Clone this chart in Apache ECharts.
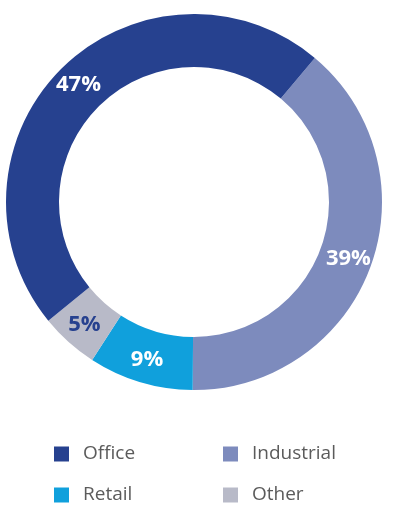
<!DOCTYPE html>
<html>
<head>
<meta charset="utf-8">
<script src="https://cdn.jsdelivr.net/npm/echarts@6/dist/echarts.min.js"></script>
<style>
  html, body { margin: 0; padding: 0; background: #fff; }
  #chart { width: 399px; height: 522px; }
</style>
</head>
<body>
<div id="chart"></div>
<script>
// slices, clockwise from the top-right
const categories = ['Industrial', 'Retail', 'Other', 'Office'];
const shares = [39, 9, 5, 47];

// legend columns
const legendLeft = ['Office', 'Retail'];
const legendRight = ['Industrial', 'Other'];

const palette = {
  Office: '#26418f',
  Industrial: '#7d8bbd',
  Retail: '#10a0dc',
  Other: '#b8bac8'
};

const chart = echarts.init(document.getElementById('chart'));

const legendBase = {
  orient: 'vertical',
  icon: 'rect',
  itemWidth: 15,
  itemHeight: 15,
  itemGap: 21,
  selectedMode: false,
  textStyle: {
    fontFamily: 'Open Sans',
    fontSize: 19,
    color: '#5b5b5b',
    lineHeight: 20,
    padding: [0, 0, 0, 9]
  }
};

chart.setOption({
  backgroundColor: '#fff',
  animation: false,
  legend: [
    Object.assign({}, legendBase, { data: legendLeft, left: 49, top: 439 }),
    Object.assign({}, legendBase, { data: legendRight, left: 218, top: 439 })
  ],
  series: [{
    type: 'pie',
    center: [194, 202],
    radius: [135, 188],
    startAngle: 50,
    clockwise: true,
    avoidLabelOverlap: false,
    label: {
      show: true,
      position: 'inside',
      formatter: '{c}%',
      fontFamily: 'Open Sans',
      fontWeight: 'bold',
      fontSize: 22,
      color: '#fff'
    },
    labelLine: { show: false },
    data: categories.map((name, i) => ({
      name: name,
      value: shares[i],
      itemStyle: { color: palette[name] },
      label: name === 'Other' ? { color: '#26418f' } : {}
    }))
  }]
});
</script>
</body>
</html>
